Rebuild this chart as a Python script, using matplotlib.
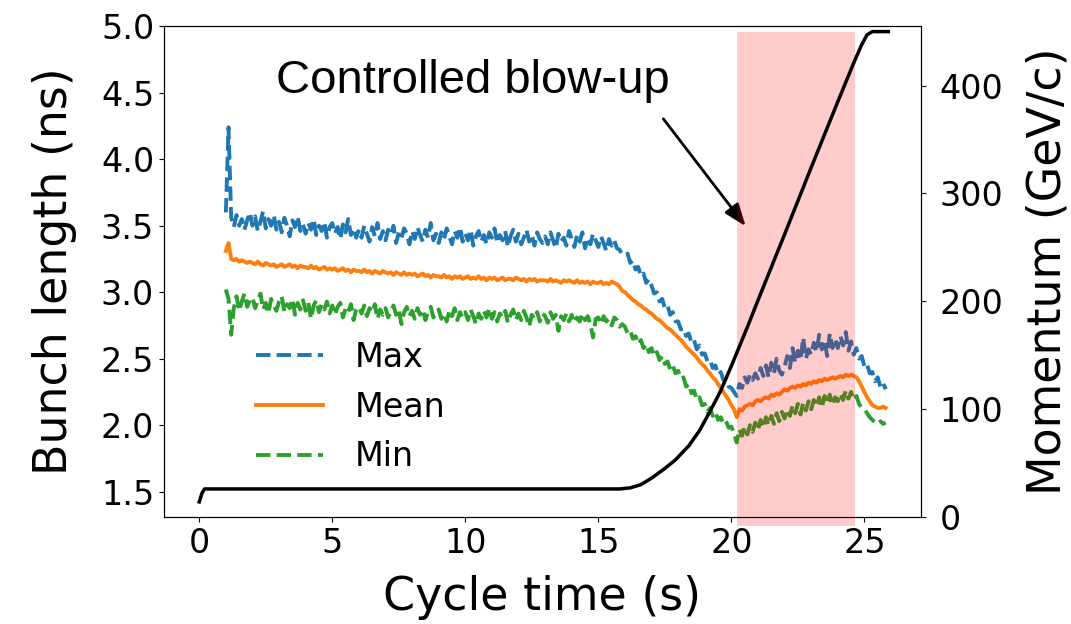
import numpy as np
import matplotlib
matplotlib.use('Agg')
import matplotlib.pyplot as plt

# sample times of the bunch length traces (s)
t = np.arange(10, 259) / 10.0

bl_max = [
    3.60, 4.24, 3.56, 3.49, 3.58, 3.50, 3.55, 3.47, 3.54, 3.60,
    3.50, 3.57, 3.46, 3.53, 3.61, 3.48, 3.55, 3.50, 3.58, 3.47,
    3.53, 3.45, 3.56, 3.50, 3.42, 3.54, 3.49, 3.57, 3.46, 3.51,
    3.44, 3.52, 3.47, 3.55, 3.43, 3.50, 3.46, 3.53, 3.41, 3.49,
    3.52, 3.44, 3.49, 3.40, 3.51, 3.45, 3.55, 3.43, 3.48, 3.41,
    3.47, 3.41, 3.50, 3.44, 3.38, 3.49, 3.42, 3.52, 3.40, 3.46,
    3.39, 3.47, 3.43, 3.50, 3.37, 3.45, 3.41, 3.48, 3.44, 3.36,
    3.46, 3.40, 3.49, 3.43, 3.38, 3.47, 3.41, 3.52, 3.39, 3.44,
    3.37, 3.45, 3.40, 3.48, 3.42, 3.36, 3.46, 3.41, 3.49, 3.38,
    3.44, 3.39, 3.47, 3.35, 3.42, 3.46, 3.38, 3.43, 3.36, 3.45,
    3.41, 3.48, 3.37, 3.43, 3.39, 3.46, 3.34, 3.42, 3.47, 3.38,
    3.44, 3.36, 3.41, 3.47, 3.38, 3.43, 3.35, 3.45, 3.40, 3.37,
    3.42, 3.36, 3.45, 3.39, 3.33, 3.44, 3.38, 3.41, 3.35, 3.46,
    3.40, 3.34, 3.43, 3.38, 3.45, 3.33, 3.41, 3.36, 3.44, 3.39,
    3.34, 3.42, 3.37, 3.31, 3.40, 3.35, 3.39, 3.33, 3.32, 3.28,
    3.28, 3.29, 3.22, 3.24, 3.17, 3.19, 3.12, 3.14, 3.07, 3.10,
    3.05, 2.99, 3.00, 2.93, 2.95, 2.88, 2.90, 2.83, 2.85, 2.78,
    2.78, 2.72, 2.73, 2.67, 2.69, 2.62, 2.64, 2.57, 2.60, 2.53,
    2.54, 2.48, 2.49, 2.43, 2.45, 2.38, 2.40, 2.34, 2.35, 2.29,
    2.28, 2.25, 2.22, 2.31, 2.28, 2.36, 2.32, 2.38, 2.34, 2.39,
    2.35, 2.43, 2.37, 2.45, 2.36, 2.47, 2.39, 2.50, 2.41, 2.38,
    2.44, 2.52, 2.43, 2.58, 2.47, 2.56, 2.49, 2.66, 2.50, 2.57,
    2.53, 2.62, 2.55, 2.68, 2.57, 2.64, 2.52, 2.69, 2.58, 2.65,
    2.58, 2.67, 2.60, 2.70, 2.56, 2.63, 2.53, 2.58, 2.50, 2.52,
    2.44, 2.46, 2.39, 2.40, 2.33, 2.36, 2.29, 2.32, 2.27,
]

bl_mean = [
    3.31, 3.37, 3.25, 3.24, 3.25, 3.23, 3.24, 3.23, 3.22, 3.23,
    3.22, 3.21, 3.23, 3.21, 3.20, 3.22, 3.21, 3.20, 3.21, 3.19,
    3.20, 3.21, 3.19, 3.20, 3.21, 3.19, 3.20, 3.18, 3.20, 3.19,
    3.19, 3.18, 3.20, 3.18, 3.19, 3.17, 3.18, 3.19, 3.17, 3.18,
    3.17, 3.18, 3.16, 3.17, 3.18, 3.16, 3.17, 3.15, 3.17, 3.16,
    3.16, 3.15, 3.17, 3.15, 3.16, 3.14, 3.16, 3.15, 3.14, 3.16,
    3.15, 3.14, 3.15, 3.13, 3.15, 3.14, 3.13, 3.15, 3.13, 3.14,
    3.13, 3.14, 3.12, 3.13, 3.14, 3.12, 3.13, 3.11, 3.13, 3.12,
    3.12, 3.11, 3.13, 3.11, 3.12, 3.10, 3.12, 3.11, 3.12, 3.10,
    3.11, 3.12, 3.10, 3.11, 3.10, 3.12, 3.10, 3.11, 3.09, 3.11,
    3.10, 3.11, 3.09, 3.10, 3.11, 3.09, 3.10, 3.10, 3.09, 3.11,
    3.10, 3.09, 3.10, 3.08, 3.10, 3.09, 3.10, 3.08, 3.09, 3.09,
    3.09, 3.08, 3.10, 3.08, 3.09, 3.08, 3.07, 3.09, 3.08, 3.09,
    3.08, 3.07, 3.09, 3.07, 3.08, 3.07, 3.08, 3.06, 3.08, 3.07,
    3.07, 3.08, 3.06, 3.07, 3.06, 3.08, 3.07, 3.06, 3.04, 3.01,
    3.00, 2.98, 2.96, 2.94, 2.93, 2.91, 2.90, 2.88, 2.87, 2.85,
    2.84, 2.82, 2.80, 2.79, 2.77, 2.75, 2.73, 2.72, 2.70, 2.68,
    2.66, 2.64, 2.62, 2.59, 2.57, 2.55, 2.53, 2.51, 2.48, 2.46,
    2.44, 2.41, 2.39, 2.36, 2.34, 2.31, 2.28, 2.25, 2.22, 2.19,
    2.15, 2.12, 2.06, 2.12, 2.11, 2.14, 2.15, 2.16, 2.15, 2.18,
    2.19, 2.18, 2.20, 2.21, 2.20, 2.23, 2.22, 2.24, 2.23, 2.25,
    2.27, 2.26, 2.28, 2.29, 2.28, 2.30, 2.29, 2.31, 2.30, 2.32,
    2.31, 2.33, 2.32, 2.34, 2.33, 2.35, 2.34, 2.35, 2.36, 2.35,
    2.36, 2.37, 2.36, 2.38, 2.37, 2.38, 2.37, 2.36, 2.33, 2.29,
    2.25, 2.21, 2.18, 2.15, 2.14, 2.13, 2.13, 2.14, 2.13,
]

bl_min = [
    3.02, 2.95, 2.68, 2.88, 2.97, 2.86, 2.93, 2.99, 2.89, 2.94,
    2.96, 2.88, 2.94, 2.99, 2.87, 2.92, 2.84, 2.95, 2.90, 2.86,
    2.93, 2.97, 2.85, 2.91, 2.88, 2.95, 2.83, 2.92, 2.87, 2.94,
    2.86, 2.92, 2.80, 2.90, 2.94, 2.85, 2.91, 2.87, 2.93, 2.84,
    2.90, 2.83, 2.89, 2.92, 2.81, 2.88, 2.85, 2.91, 2.79, 2.87,
    2.89, 2.84, 2.90, 2.82, 2.88, 2.85, 2.91, 2.80, 2.87, 2.83,
    2.88, 2.81, 2.86, 2.90, 2.83, 2.87, 2.76, 2.85, 2.89, 2.82,
    2.86, 2.80, 2.88, 2.83, 2.87, 2.79, 2.85, 2.89, 2.81, 2.84,
    2.87, 2.80, 2.84, 2.78, 2.86, 2.82, 2.88, 2.79, 2.85, 2.81,
    2.85, 2.79, 2.87, 2.82, 2.76, 2.84, 2.80, 2.86, 2.81, 2.88,
    2.80, 2.85, 2.78, 2.84, 2.81, 2.86, 2.77, 2.83, 2.87, 2.79,
    2.84, 2.79, 2.86, 2.81, 2.74, 2.83, 2.80, 2.85, 2.78, 2.84,
    2.82, 2.77, 2.85, 2.80, 2.83, 2.71, 2.82, 2.79, 2.84, 2.78,
    2.83, 2.77, 2.81, 2.78, 2.84, 2.79, 2.82, 2.76, 2.66, 2.80,
    2.81, 2.76, 2.82, 2.78, 2.80, 2.75, 2.81, 2.79, 2.74, 2.76,
    2.74, 2.69, 2.71, 2.65, 2.67, 2.61, 2.64, 2.58, 2.61, 2.55,
    2.58, 2.52, 2.55, 2.49, 2.52, 2.46, 2.48, 2.42, 2.45, 2.39,
    2.41, 2.35, 2.36, 2.29, 2.31, 2.24, 2.26, 2.19, 2.21, 2.15,
    2.16, 2.10, 2.13, 2.07, 2.10, 2.04, 2.06, 2.01, 2.03, 1.98,
    1.99, 1.94, 1.87, 1.97, 1.92, 1.99, 1.93, 2.00, 1.95, 2.02,
    1.96, 2.04, 1.98, 2.06, 2.00, 2.07, 2.01, 2.09, 2.03, 2.10,
    2.05, 2.12, 2.07, 2.15, 2.09, 2.16, 2.08, 2.17, 2.11, 2.18,
    2.12, 2.19, 2.14, 2.21, 2.13, 2.22, 2.16, 2.23, 2.15, 2.21,
    2.18, 2.24, 2.19, 2.26, 2.20, 2.25, 2.19, 2.22, 2.16, 2.13,
    2.12, 2.09, 2.06, 2.04, 2.02, 2.01, 2.03, 2.01, 2.02,
]

# momentum programme (s, GeV/c)
t_mom = [0.0, 0.1, 0.2, 15.8, 16.2, 16.6, 17.0, 17.5, 17.9, 18.4, 18.8, 19.2,
         19.6, 20.0, 20.2, 20.6, 21.1, 22.0, 23.0, 24.0, 24.6, 24.9, 25.1,
         25.3, 25.9]
momentum = [14, 22, 26, 26, 27, 30, 36, 45, 53, 66, 80, 98,
            117, 140, 152, 176, 207, 262, 324, 385, 421, 438, 447,
            450, 450]

blowup_start, blowup_end = 20.2, 24.65

fig, ax = plt.subplots(figsize=(10.71, 6.24), dpi=100)
fig.subplots_adjust(left=0.153, right=0.86, top=0.958, bottom=0.1715)

ax.plot(t, bl_max, '--', color='tab:blue', lw=2.8, label='Max')
ax.plot(t, bl_mean, '-', color='tab:orange', lw=2.8, label='Mean')
ax.plot(t, bl_min, '--', color='tab:green', lw=2.8, label='Min')
ax.set_xlim(-1.33, 27.13)
ax.set_ylim(1.31, 5.0)
ax.set_yticks(np.arange(1.5, 5.01, 0.5))
ax.set_xlabel('Cycle time (s)', fontsize=33, labelpad=11)
ax.set_ylabel('Bunch length (ns)', fontsize=33, labelpad=17)
ax.tick_params(labelsize=24)
ax.legend(loc='lower left', bbox_to_anchor=(0.082, 0.028), frameon=False,
          fontsize=24, handletextpad=0.95)

ax.annotate('Controlled blow-up', xy=(20.6, 3.48), xytext=(2.9, 4.5),
            fontsize=34, family='Liberation Sans', va='baseline')
ax.annotate('', xy=(20.6, 3.48), xytext=(17.38, 4.32),
            arrowprops=dict(arrowstyle='-|>,head_length=0.45,head_width=0.17',
                            color='black', lw=2, mutation_scale=30))

ax2 = ax.twinx()
ax2.plot(t_mom, momentum, color='black', lw=2.5)
ax2.set_ylim(0, 455)
ax2.set_yticks([0, 100, 200, 300, 400])
ax2.set_ylabel('Momentum (GeV/c)', fontsize=33, labelpad=16)
ax2.tick_params(labelsize=24, pad=10)
ax2.fill_between([blowup_start, blowup_end], -8, 450, color='red',
                 alpha=0.2, lw=0, clip_on=False)

fig.savefig('out.png', dpi=100)
